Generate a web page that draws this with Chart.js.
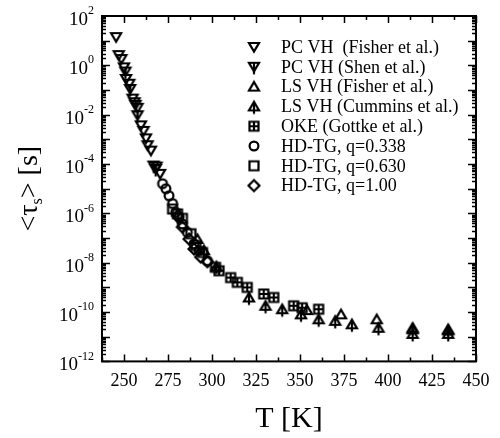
<!DOCTYPE html>
<html>
<head>
<meta charset="utf-8">
<script src="https://cdn.jsdelivr.net/npm/chart.js@4.4.0/dist/chart.umd.min.js"></script>
<style>
  html, body { margin: 0; padding: 0; background: #fff; }
  #wrap { width: 500px; height: 438px; }
</style>
</head>
<body>
<div id="wrap"><canvas id="tauChart" width="500" height="438"></canvas></div>
<script>
const SERIF = "'Liberation Serif', 'DejaVu Serif', serif";

// axis ticks
const xTickValues = [250, 275, 300, 325, 350, 375, 400, 425, 450];
const yTickExponents = [2, 0, -2, -4, -6, -8, -10, -12];

// series (T in K, <tau_s> in s)
const pcFisherT   = [245.5, 247.0, 248.5, 250.0, 251.2, 253.0, 254.9, 256.0, 257.7, 259.6, 261.1, 262.5, 263.4, 265.3, 268.5, 270.5];
const pcFisherTau = [14, 2.6, 1.8, 0.83, 0.28, 0.18, 0.045, 0.032, 0.019, 3.7e-3, 2.2e-3, 1.1e-3, 5.8e-4, 3.5e-4, 7.9e-5, 4.0e-5];

const pcShenT   = [250.8, 253.5, 256.5, 257.7, 266.8, 268.0];
const pcShenTau = [0.56, 0.11, 0.025, 9.5e-3, 8.7e-5, 6.3e-5];

const lsFisherT   = [291.7, 354.0, 373.3, 393.6, 414.0, 434.2];
const lsFisherTau = [9.1e-8, 1.2e-10, 8.1e-11, 5.1e-11, 2.0e-11, 1.8e-11];

const lsCumminsT   = [295.4, 302.5, 321.0, 330.4, 339.9, 350.6, 360.6, 370.0, 379.5, 394.6, 414.0, 414.0, 434.2, 434.2];
const lsCumminsTau = [3.2e-8, 7.1e-9, 3.9e-10, 1.8e-10, 1.3e-10, 8.1e-11, 5.1e-11, 4.4e-11, 3.2e-11, 2.3e-11, 2.3e-11, 1.3e-11, 2.0e-11, 1.3e-11];

const okeT   = [302.0, 304.0, 310.6, 314.4, 320.0, 329.4, 335.1, 346.4, 351.2, 360.6];
const okeTau = [6.5e-9, 4.7e-9, 2.5e-9, 1.6e-9, 1.0e-9, 5.4e-10, 3.9e-10, 1.8e-10, 1.5e-10, 1.3e-10];

const hd338T   = [271.9, 273.8, 275.6, 277.6, 279.4, 281.3, 283.2, 286.0, 289.8, 292.6, 297.4];
const hd338Tau = [1.6e-5, 1.0e-5, 5.2e-6, 2.5e-6, 1.1e-6, 6.9e-7, 3.7e-7, 1.7e-7, 5.8e-8, 3.1e-8, 1.2e-8];

const hd630T   = [277.6, 280.4, 283.2, 288.0, 290.8, 294.6];
const hd630Tau = [1.5e-6, 9.5e-7, 6.3e-7, 1.5e-7, 5.0e-8, 2.6e-8];

const hd100T   = [280.4, 283.2, 287.0, 289.8, 293.6, 297.4];
const hd100Tau = [8.1e-7, 2.8e-7, 9.1e-8, 3.6e-8, 1.7e-8, 1.1e-8];

const seriesLabels = [
    'PC VH  (Fisher et al.)',
    'PC VH (Shen et al.)',
    'LS VH (Fisher et al.)',
    'LS VH (Cummins et al.)',
    'OKE (Gottke et al.)',
    'HD-TG, q=0.338',
    'HD-TG, q=0.630',
    'HD-TG, q=1.00'
];

// small canvases used as point styles
function makeMarker(kind) {
    const c = document.createElement('canvas');
    c.width = 18;
    c.height = 18;
    const g = c.getContext('2d');
    const cx = 9, cy = 9;
    g.strokeStyle = '#000';
    g.lineWidth = 2.2;
    g.beginPath();
    if (kind === 'triDown' || kind === 'triDownStem') {
        g.moveTo(cx - 5, cy - 4);
        g.lineTo(cx + 5, cy - 4);
        g.lineTo(cx, cy + 4.5);
        g.closePath();
    } else if (kind === 'triUp' || kind === 'triUpStem') {
        g.moveTo(cx - 5, cy + 4);
        g.lineTo(cx + 5, cy + 4);
        g.lineTo(cx, cy - 4.5);
        g.closePath();
    } else if (kind === 'circle') {
        g.arc(cx, cy, 4.4, 0, Math.PI * 2);
    } else if (kind === 'square' || kind === 'squareCross') {
        g.rect(cx - 4.5, cy - 4.5, 9, 9);
    } else if (kind === 'diamond') {
        g.moveTo(cx, cy - 5.5);
        g.lineTo(cx + 5.5, cy);
        g.lineTo(cx, cy + 5.5);
        g.lineTo(cx - 5.5, cy);
        g.closePath();
    }
    g.stroke();
    g.beginPath();
    if (kind === 'triDownStem') {
        g.moveTo(cx, cy - 4);
        g.lineTo(cx, cy + 7.5);
    } else if (kind === 'triUpStem') {
        g.moveTo(cx, cy - 4.5);
        g.lineTo(cx, cy + 7.5);
    } else if (kind === 'squareCross') {
        g.moveTo(cx, cy - 4.5);
        g.lineTo(cx, cy + 4.5);
        g.moveTo(cx - 4.5, cy);
        g.lineTo(cx + 4.5, cy);
    }
    g.stroke();
    return c;
}

const markerKinds = ['triDown', 'triDownStem', 'triUp', 'triUpStem', 'squareCross', 'circle', 'square', 'diamond'];
const markers = markerKinds.map(makeMarker);

function pairUp(xs, ys) {
    return xs.map((x, i) => ({ x: x, y: ys[i] }));
}

const seriesData = [
    pairUp(pcFisherT, pcFisherTau),
    pairUp(pcShenT, pcShenTau),
    pairUp(lsFisherT, lsFisherTau),
    pairUp(lsCumminsT, lsCumminsTau),
    pairUp(okeT, okeTau),
    pairUp(hd338T, hd338Tau),
    pairUp(hd630T, hd630Tau),
    pairUp(hd100T, hd100Tau)
];

const datasets = seriesData.map((d, i) => ({
    label: seriesLabels[i],
    data: d,
    pointStyle: markers[i],
    pointRadius: 5,
    showLine: false
}));

// frame with inward ticks on all four sides
const framePlugin = {
    id: 'frame',
    afterDraw(chart) {
        const ctx = chart.ctx;
        const a = chart.chartArea;
        const xs = chart.scales.x;
        const ys = chart.scales.y;
        ctx.save();
        ctx.strokeStyle = '#000';
        ctx.lineWidth = 1.5;
        ctx.beginPath();
        for (let v = 237.5; v <= 450; v += 12.5) {
            const px = Math.round(xs.getPixelForValue(v)) + 0.5;
            const len = v % 25 === 0 ? 7 : 4;
            ctx.moveTo(px, a.bottom);
            ctx.lineTo(px, a.bottom - len);
            ctx.moveTo(px, a.top);
            ctx.lineTo(px, a.top + len);
        }
        for (let e = -12; e < 2; e++) {
            for (let m = 1; m <= 9; m++) {
                const py = Math.round(ys.getPixelForValue(m * Math.pow(10, e))) + 0.5;
                const len = m === 1 ? 8 : 4;
                ctx.moveTo(a.left, py);
                ctx.lineTo(a.left + len, py);
                ctx.moveTo(a.right, py);
                ctx.lineTo(a.right - len, py);
            }
        }
        ctx.stroke();
        ctx.lineWidth = 2;
        ctx.strokeRect(a.left, a.top, a.right - a.left, a.bottom - a.top);

        // y tick labels as 10 with a raised exponent
        ctx.fillStyle = '#000';
        ctx.textBaseline = 'middle';
        yTickExponents.forEach(e => {
            const py = ys.getPixelForValue(Math.pow(10, e));
            ctx.font = '12px ' + SERIF;
            const expText = String(e);
            const ew = ctx.measureText(expText).width;
            ctx.textAlign = 'left';
            ctx.fillText(expText, 94 - ew, py - 5);
            ctx.font = '19px ' + SERIF;
            ctx.textAlign = 'right';
            ctx.fillText('10', 94 - ew, py + 4);
        });

        // y title: <tau_s> [s], rotated
        ctx.translate(30, (a.top + a.bottom) / 2);
        ctx.rotate(-Math.PI / 2);
        const big = '28px ' + SERIF;
        const small = '16px ' + SERIF;
        const parts = [['<\u03c4', big, 0], ['s', small, 8], ['> [s]', big, 0]];
        let total = 0;
        parts.forEach(p => { ctx.font = p[1]; total += ctx.measureText(p[0]).width; });
        let cur = -total / 2;
        ctx.textAlign = 'left';
        parts.forEach(p => {
            ctx.font = p[1];
            ctx.fillText(p[0], cur, p[2]);
            cur += ctx.measureText(p[0]).width;
        });
        ctx.restore();
    }
};

// legend inside the plot, upper right
const legendPlugin = {
    id: 'insideLegend',
    afterDraw(chart) {
        const ctx = chart.ctx;
        ctx.save();
        ctx.fillStyle = '#000';
        ctx.font = '18px ' + SERIF;
        ctx.textBaseline = 'middle';
        ctx.textAlign = 'left';
        chart.data.datasets.forEach((ds, i) => {
            const y = 47 + i * 19.8;
            const img = ds.pointStyle;
            ctx.drawImage(img, 254 - img.width / 2, y - img.height / 2);
            ctx.fillText(ds.label, 281, y + 1);
        });
        ctx.restore();
    }
};

const ctx = document.getElementById('tauChart').getContext('2d');
new Chart(ctx, {
    type: 'scatter',
    data: { datasets: datasets },
    options: {
        responsive: false,
        animation: false,
        layout: {
            padding: { left: 102, right: 24, top: 16, bottom: 1 }
        },
        plugins: {
            legend: { display: false },
            tooltip: { enabled: false }
        },
        scales: {
            x: {
                type: 'linear',
                min: 237.5,
                max: 450,
                afterBuildTicks: scale => {
                    scale.ticks = xTickValues.map(v => ({ value: v }));
                },
                grid: { display: false, drawTicks: false },
                border: { display: false },
                ticks: {
                    color: '#000',
                    font: { family: SERIF, size: 18 },
                    padding: 9,
                    maxRotation: 0,
                    autoSkip: false
                },
                title: {
                    display: true,
                    text: 'T [K]',
                    color: '#000',
                    font: { family: SERIF, size: 30 },
                    padding: { top: 0, bottom: 0 }
                }
            },
            y: {
                type: 'logarithmic',
                min: 1e-12,
                max: 1e2,
                display: false
            }
        }
    },
    plugins: [framePlugin, legendPlugin]
});
</script>
</body>
</html>
